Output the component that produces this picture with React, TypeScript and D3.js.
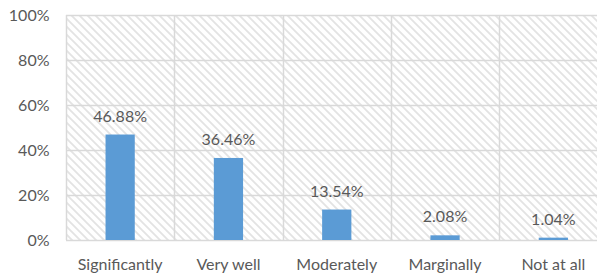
import React from "react";
import * as d3 from "d3";

const categories = ["Significantly", "Very well", "Moderately", "Marginally", "Not at all"];
const values = [46.88, 36.46, 13.54, 2.08, 1.04];
const yTicks = [0, 20, 40, 60, 80, 100];

export default function App() {
  const W = 597, H = 274;
  const left = 66, top = 15, right = 607.5, bottom = 240;
  const x = d3.scaleBand<string>().domain(categories).range([left, right]).paddingInner(0).paddingOuter(0);
  const y = d3.scaleLinear().domain([0, 100]).range([bottom, top]);
  const barW = x.bandwidth() * 0.27;
  const font = "Lato, 'Open Sans', sans-serif";
  const textColor = "#595959";
  return (
    <svg width={W} height={H} style={{ position: "absolute", left: 0, top: 0, background: "#fff" }}>
      <defs>
        <pattern id="hatch" width="8" height="8" patternUnits="userSpaceOnUse">
          <rect width="8" height="8" fill="#fff" />
          <path d="M-2,-2 L10,10 M-2,6 L2,10 M6,-2 L10,2" stroke="#e3e3e3" strokeWidth="1.8" />
        </pattern>
      </defs>
      <rect x={left} y={top} width={right - left} height={bottom - top} fill="url(#hatch)" />
      {yTicks.map((t) => (
        <line key={"h" + t} x1={left} x2={right} y1={Math.round(y(t)) + 0.5} y2={Math.round(y(t)) + 0.5} stroke="#d9d9d9" strokeWidth={1.5} />
      ))}
      {categories.map((c) => (
        <line key={"v" + c} x1={Math.round(x(c)!) + 0.5} x2={Math.round(x(c)!) + 0.5} y1={top} y2={bottom} stroke="#d9d9d9" strokeWidth={1.5} />
      ))}
      {categories.map((c, i) => {
        const cx = x(c)! + x.bandwidth() / 2;
        return (
          <g key={"b" + c}>
            <rect x={cx - barW / 2} y={y(values[i])} width={barW} height={bottom - y(values[i])} fill="#5b9bd5" />
            <text x={cx} y={y(values[i]) - 13} textAnchor="middle" fontFamily={font} fontSize={16} fill={textColor}>
              {values[i].toFixed(2) + "%"}
            </text>
            <text x={cx} y={269.5} textAnchor="middle" fontFamily={font} fontSize={16} fill={textColor}>
              {c}
            </text>
          </g>
        );
      })}
      {yTicks.map((t) => (
        <text key={"t" + t} x={49.5} y={y(t) + 5.7} textAnchor="end" fontFamily={font} fontSize={16} fill={textColor}>
          {t + "%"}
        </text>
      ))}
    </svg>
  );
}
